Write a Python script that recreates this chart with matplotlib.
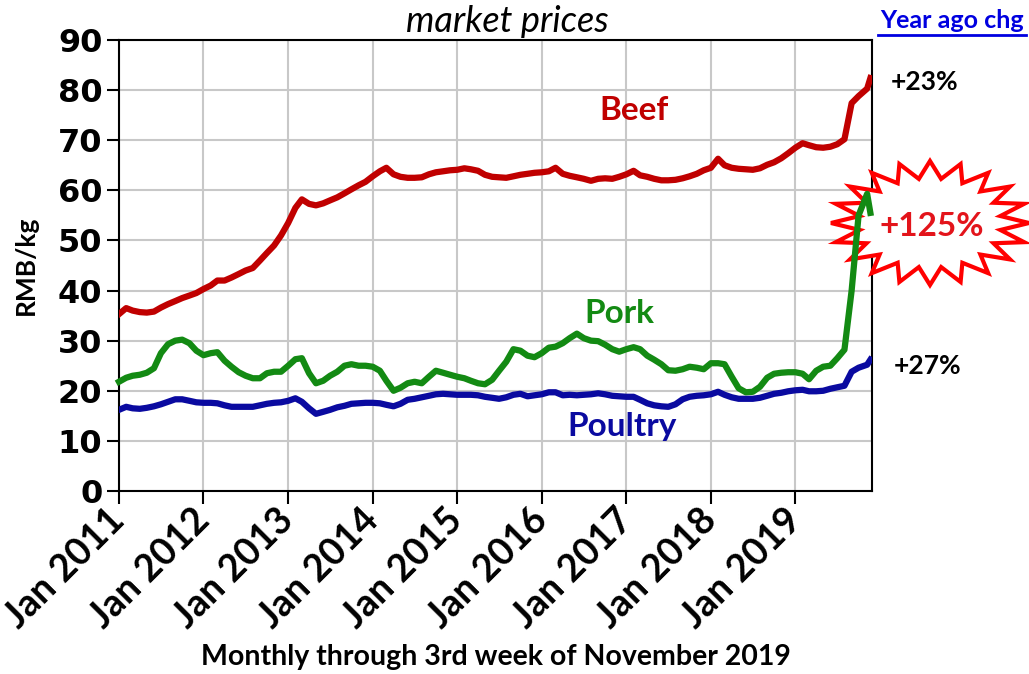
import numpy as np
import pandas as pd
import matplotlib
matplotlib.use("Agg")
import matplotlib.pyplot as plt
from matplotlib.patches import Polygon

# monthly points Jan 2011 - Oct 2019, then two weekly readings in November 2019
dates = list(pd.date_range("2011-01-01", "2019-10-01", freq="MS")) + [pd.Timestamp("2019-11-07"), pd.Timestamp("2019-11-21")]

beef = [35.3, 36.5, 36.0, 35.7, 35.6, 35.8, 36.6, 37.3, 37.9, 38.5, 39.0, 39.5,
        40.3, 41.0, 42.0, 42.0, 42.6, 43.3, 44.0, 44.5, 46.0, 47.5, 49.0, 51.0,
        53.5, 56.5, 58.2, 57.3, 57.0, 57.4, 58.0, 58.6, 59.4, 60.2, 61.0, 61.7,
        62.8, 63.8, 64.5, 63.2, 62.7, 62.5, 62.5, 62.6, 63.2, 63.6, 63.8, 64.0,
        64.1, 64.4, 64.2, 63.9, 63.1, 62.7, 62.6, 62.5, 62.8, 63.1, 63.3, 63.5,
        63.6, 63.8, 64.5, 63.3, 62.9, 62.6, 62.3, 61.9, 62.3, 62.4, 62.3, 62.7,
        63.2, 63.9, 63.0, 62.7, 62.3, 62.0, 62.0, 62.1, 62.4, 62.8, 63.3, 64.0,
        64.5, 66.3, 65.0, 64.5, 64.3, 64.2, 64.1, 64.4, 65.1, 65.6, 66.4, 67.4,
        68.5, 69.4, 69.0, 68.6, 68.5, 68.7, 69.2, 70.2, 77.4, 78.8, 80.3, 82.4]

pork = [21.8, 22.6, 23.0, 23.2, 23.6, 24.5, 27.5, 29.3, 30.0, 30.2, 29.5, 28.0,
        27.1, 27.5, 27.7, 26.0, 24.8, 23.7, 23.0, 22.5, 22.5, 23.5, 23.8, 23.8,
        25.0, 26.3, 26.5, 23.5, 21.5, 22.0, 23.0, 23.8, 25.0, 25.3, 25.0, 25.0,
        24.8, 24.0, 22.0, 20.0, 20.6, 21.5, 21.8, 21.5, 22.8, 24.0, 23.6, 23.2,
        22.8, 22.5, 22.0, 21.5, 21.3, 22.2, 24.0, 25.8, 28.3, 28.0, 27.0, 26.7,
        27.5, 28.6, 28.8, 29.5, 30.5, 31.4, 30.5, 30.0, 29.9, 29.2, 28.3, 27.8,
        28.3, 28.7, 28.3, 27.0, 26.2, 25.3, 24.1, 24.0, 24.3, 24.8, 24.6, 24.3,
        25.5, 25.5, 25.3, 22.8, 20.5, 19.7, 19.8, 20.8, 22.6, 23.4, 23.6, 23.7,
        23.7, 23.4, 22.3, 24.0, 24.8, 25.0, 26.5, 28.2, 40.0, 55.0, 59.3, 55.5]

poultry = [16.2, 16.8, 16.5, 16.4, 16.6, 16.9, 17.3, 17.8, 18.3, 18.3, 18.0, 17.7,
           17.6, 17.6, 17.5, 17.1, 16.8, 16.8, 16.8, 16.8, 17.1, 17.4, 17.6, 17.7,
           18.0, 18.5, 17.8, 16.5, 15.4, 15.8, 16.2, 16.7, 17.0, 17.4, 17.5, 17.6,
           17.6, 17.5, 17.2, 16.9, 17.4, 18.2, 18.4, 18.7, 19.0, 19.3, 19.4, 19.3,
           19.2, 19.2, 19.2, 19.1, 18.8, 18.6, 18.4, 18.7, 19.2, 19.4, 18.9, 19.1,
           19.3, 19.7, 19.7, 19.1, 19.2, 19.1, 19.2, 19.3, 19.5, 19.3, 19.0, 18.9,
           18.8, 18.8, 18.2, 17.5, 17.1, 16.9, 16.8, 17.3, 18.3, 18.8, 19.0, 19.1,
           19.3, 19.8, 19.2, 18.7, 18.4, 18.4, 18.4, 18.6, 19.0, 19.4, 19.6, 19.9,
           20.1, 20.2, 19.9, 19.9, 20.0, 20.4, 20.7, 21.0, 23.8, 24.6, 25.2, 26.2]

year_ticks = pd.date_range("2011-01-01", "2019-01-01", freq="YS")
year_labels = [f"Jan {d.year}" for d in year_ticks]
yoy_labels = ["+23%", "+125%", "+27%"]

fig = plt.figure(figsize=(10.29, 6.74), dpi=100)
ax = fig.add_axes([119 / 1029, 1 - 491 / 674, (872 - 119) / 1029, (491 - 40) / 674])

# overlay in pixel units for the right-hand annotations
ov = fig.add_axes([0, 0, 1, 1], zorder=5)
ov.set_xlim(0, 1029)
ov.set_ylim(674, 0)
ov.axis("off")
ov.patch.set_alpha(0)

ax.plot(dates, beef, color="#C00000", lw=4.5, solid_joinstyle="round", zorder=3)
ax.plot(dates, poultry, color="#0A0AA0", lw=4.5, solid_joinstyle="round", zorder=3)
ax.plot(dates, pork, color="#138A13", lw=4.5, solid_joinstyle="round", zorder=6, clip_on=False)

ax.set_xticks(year_ticks)
ax.set_xticklabels(year_labels, rotation=45, ha="right", va="center",
                   rotation_mode="anchor", fontsize=27, fontweight="bold", family="Lato")
ax.tick_params(axis="both", direction="out", length=9, width=1.5, color="black")
ax.tick_params(axis="x", pad=8)
ax.tick_params(axis="y", pad=3)
ax.grid(True, color="#C8C8C8", lw=1.5)
ax.set_axisbelow(True)
for s in ax.spines.values():
    s.set_linewidth(1.5)

ax.set_ylabel("RMB/kg", fontsize=19, fontweight="bold", family="Lato", labelpad=14)
ax.set_xlabel("Monthly through 3rd week of November 2019", fontsize=20.5,
              fontweight="bold", family="Lato", labelpad=7)
fig.text(507 / 1029, 1 - 22 / 674, "market prices", fontsize=26, style="italic",
         family="Lato", ha="center", va="center")

ax.text(pd.Timestamp("2017-02-01"), 76, "Beef", color="#C00000", fontsize=24,
        fontweight="bold", family="Lato", ha="center", va="center")
ax.text(pd.Timestamp("2016-12-01"), 35.5, "Pork", color="#138A13", fontsize=24,
        fontweight="bold", family="Lato", ha="center", va="center")
ax.text(pd.Timestamp("2016-12-15"), 12.8, "Poultry", color="#0A0AA0", fontsize=24,
        fontweight="bold", family="Lato", ha="center", va="center")

ov.text(952, 21, "Year ago chg", color="#0000E0", fontsize=18, fontweight="bold",
        family="Lato", ha="center", va="center")
ov.plot([878, 1026], [35, 35], color="#0000E0", lw=2)
ov.text(925, 82, yoy_labels[0], fontsize=19, fontweight="bold", family="Lato",
        ha="center", va="center")
ov.text(928, 366, yoy_labels[2], fontsize=19, fontweight="bold", family="Lato",
        ha="center", va="center")

# starburst sits under the pork line, over the right spine
n = 20
ang = np.linspace(0, 2 * np.pi, 2 * n, endpoint=False) + np.pi / 2
rad = np.where(np.arange(2 * n) % 2 == 0, 1.0, 0.72)
cx, cy = 930, 223
star = Polygon(np.column_stack([cx + 99 * rad * np.cos(ang), cy - 62 * rad * np.sin(ang)]),
               closed=True, facecolor="white", edgecolor="#FF0000", lw=3,
               transform=ov.transData, clip_on=False, zorder=5)
ax.add_artist(star)
ax.text(cx + 2, cy + 3, yoy_labels[1], color="#E3141B", fontsize=24, fontweight="bold",
        family="Lato", ha="center", va="center", transform=ov.transData, zorder=7)

ax.set_xlim(pd.Timestamp("2011-01-01"), pd.Timestamp("2019-11-28"))
ax.set_ylim(0, 90)
ax.set_yticks(range(0, 91, 10))
for lab in ax.get_yticklabels():
    lab.set_fontsize(23)
    lab.set_fontweight("bold")

fig.savefig("out.png", dpi=100)
